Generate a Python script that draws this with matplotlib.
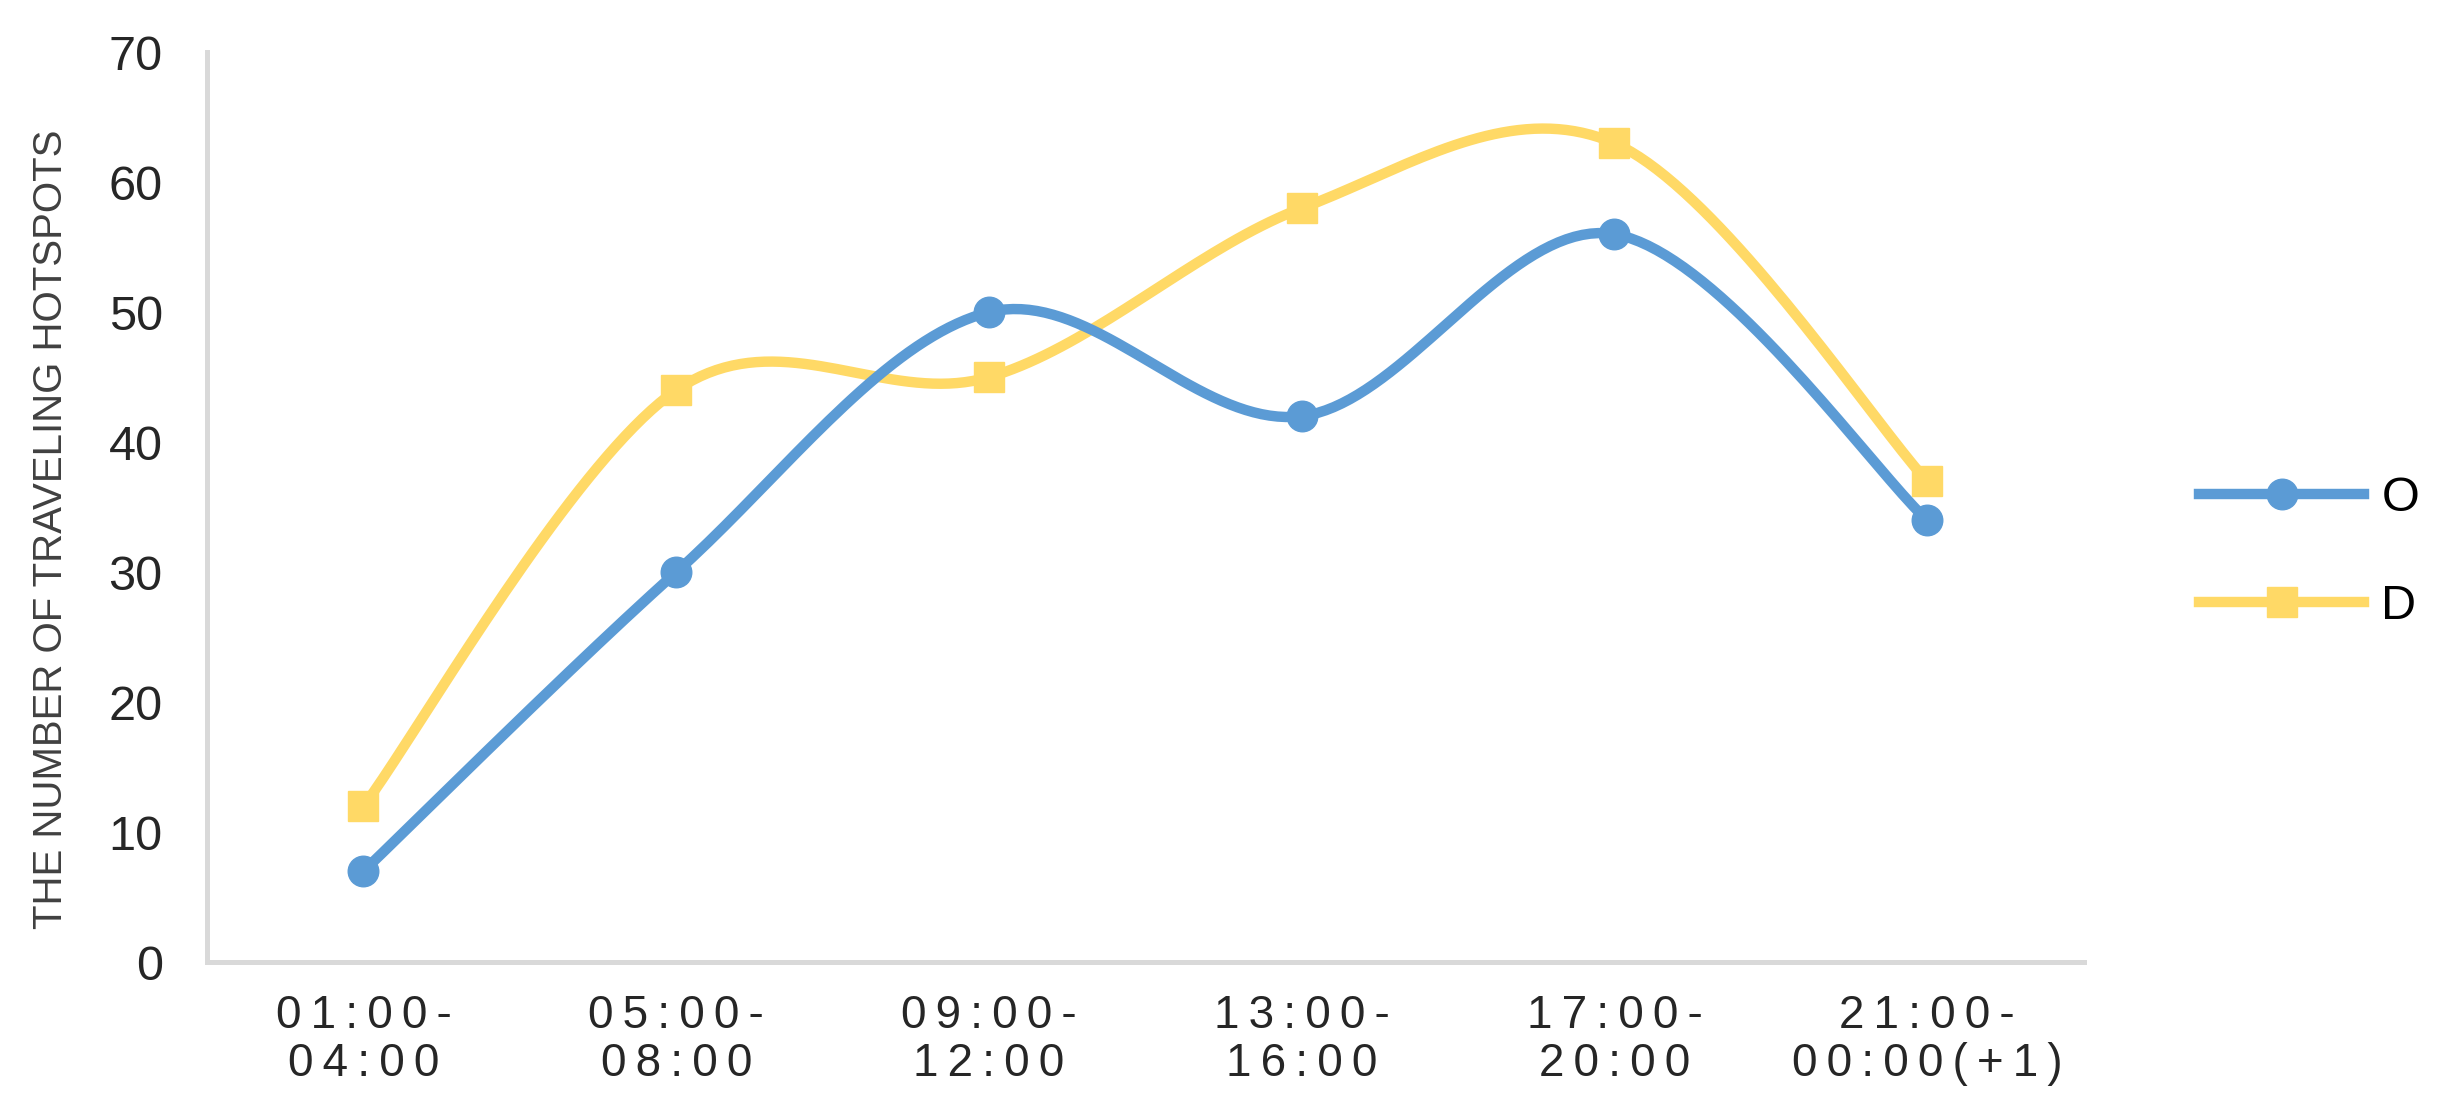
import numpy as np
import matplotlib
matplotlib.use('Agg')
import matplotlib.pyplot as plt
from matplotlib.lines import Line2D

periods = ['01:00-\n04:00', '05:00-\n08:00', '09:00-\n12:00',
           '13:00-\n16:00', '17:00-\n20:00', '21:00-\n00:00(+1)']
origin = [7, 30, 50, 42, 56, 34]
destination = [12, 44, 45, 58, 63, 37]

blue = '#5B9BD5'
yellow = '#FFD966'
fonts = ['Liberation Sans', 'DejaVu Sans']


def smooth(xs, ys, n=40):
    # catmull-rom through the points, like the smoothed line option in a spreadsheet
    xs = np.asarray(xs, float)
    ys = np.asarray(ys, float)
    px = np.concatenate([[xs[0]], xs, [xs[-1]]])
    py = np.concatenate([[ys[0]], ys, [ys[-1]]])
    out_x, out_y = [], []
    for i in range(1, len(px) - 2):
        t = np.linspace(0, 1, n)
        for p, out in ((px, out_x), (py, out_y)):
            p0, p1, p2, p3 = p[i - 1], p[i], p[i + 1], p[i + 2]
            c1 = p1 + (p2 - p0) / 6
            c2 = p2 - (p3 - p1) / 6
            out.extend((1 - t) ** 3 * p1 + 3 * (1 - t) ** 2 * t * c1
                       + 3 * (1 - t) * t ** 2 * c2 + t ** 3 * p2)
    return out_x, out_y


def spaced(s):
    # the x labels are letter-spaced
    return '\n'.join('\u2009'.join(line) for line in s.split('\n'))


fig = plt.figure(figsize=(24.57, 11.11), dpi=100)
ax = fig.add_axes([0.0843, 0.134, 0.7637, 0.819])

x = np.arange(len(periods))
sx, sy = smooth(x, origin)
ax.plot(sx, sy, color=blue, lw=7.5, solid_capstyle='round', zorder=3)
ax.plot(x, origin, 'o', color=blue, ms=22, zorder=4)
sx, sy = smooth(x, destination)
ax.plot(sx, sy, color=yellow, lw=7.5, solid_capstyle='round', zorder=2)
ax.plot(x, destination, 's', color=yellow, ms=21, zorder=2)

ax.set_xlim(-0.5, 5.5)
ax.set_ylim(0, 70)
ax.set_yticks(range(0, 71, 10))
ax.set_xticks(x)
ax.set_xticklabels([spaced(p) for p in periods], family=fonts,
                   fontsize=33, color='#262626', linespacing=1.13)
for lab in ax.get_yticklabels():
    lab.set_family(fonts)
    lab.set_fontsize(35)
    lab.set_color('#262626')
ax.tick_params(length=0)
ax.tick_params(axis='y', pad=32)
ax.tick_params(axis='x', pad=23)

for s in ['top', 'right']:
    ax.spines[s].set_visible(False)
for s in ['left', 'bottom']:
    ax.spines[s].set_color('#d9d9d9')
    ax.spines[s].set_linewidth(3.6)

ax.set_ylabel('THE NUMBER OF TRAVELING HOTSPOTS', family=fonts,
              fontsize=29, color='#404040')
ax.yaxis.set_label_coords(-0.073, 0.476)

handles = [Line2D([], [], color=blue, lw=7.5, marker='o', ms=22),
           Line2D([], [], color=yellow, lw=7.5, marker='s', ms=21)]
fig.legend(handles, ['O', 'D'], loc='center left', bbox_to_anchor=(0.895, 0.503),
           frameon=False, handlelength=3.4, labelspacing=1.3, handletextpad=0.35,
           borderpad=0, borderaxespad=0,
           prop={'family': fonts, 'size': 35})

fig.savefig('out.png', dpi=100, facecolor='white')
